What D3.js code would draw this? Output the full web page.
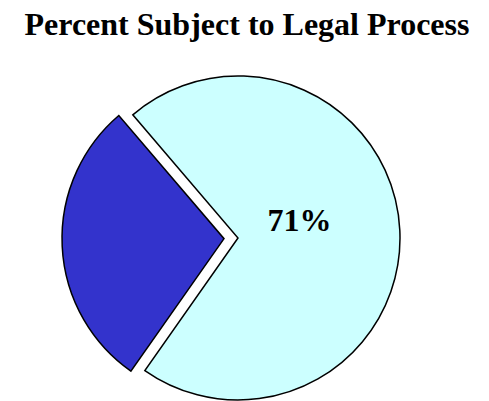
<!DOCTYPE html>
<html><head><meta charset="utf-8">
<script src="https://cdn.jsdelivr.net/npm/d3@7"></script>
<style>html,body{margin:0;padding:0;background:#fff;}</style>
</head><body>
<svg id="c" width="489" height="401"></svg>
<script>
const categories = ["Subject to Legal Process", "Not Subject"];
const values = [71, 29];
const labels = ["71%", ""];
const colors = ["#CCFFFF", "#3333CC"];
const exploded = [false, true];

const svg = d3.select("#c");
svg.append("text").attr("x", 247).attr("y", 35).attr("text-anchor", "middle")
  .attr("font-family", "'Liberation Serif', 'Times New Roman', serif")
  .attr("font-weight", "bold").attr("font-size", 32).text("Percent Subject to Legal Process");

const cx = 238, cy = 238, r = 162, off = 14;
const start = -40.5 * Math.PI / 180;
const pie = d3.pie().sort(null).value(d => d).startAngle(start).endAngle(start + 2 * Math.PI);
const arcs = pie(values);
const arc = d3.arc().innerRadius(0).outerRadius(r);
const g = svg.append("g").attr("transform", `translate(${cx},${cy})`);
arcs.forEach((a, i) => {
  const mid = (a.startAngle + a.endAngle) / 2;
  const dx = exploded[i] ? off * Math.sin(mid) : 0;
  const dy = exploded[i] ? -off * Math.cos(mid) : 0;
  g.append("path").attr("d", arc(a)).attr("transform", `translate(${dx},${dy})`)
    .attr("fill", colors[i]).attr("stroke", "#000").attr("stroke-width", 1.5)
    .attr("stroke-linejoin", "miter");
});
const lAng = 74 * Math.PI / 180, lr = 64;
g.append("text").attr("x", lr * Math.sin(lAng)).attr("y", -lr * Math.cos(lAng))
  .attr("text-anchor", "middle").attr("dominant-baseline", "central")
  .attr("font-family", "'Liberation Serif', 'Times New Roman', serif")
  .attr("font-weight", "bold").attr("font-size", 32).text(labels[0]);
</script>
</body></html>
